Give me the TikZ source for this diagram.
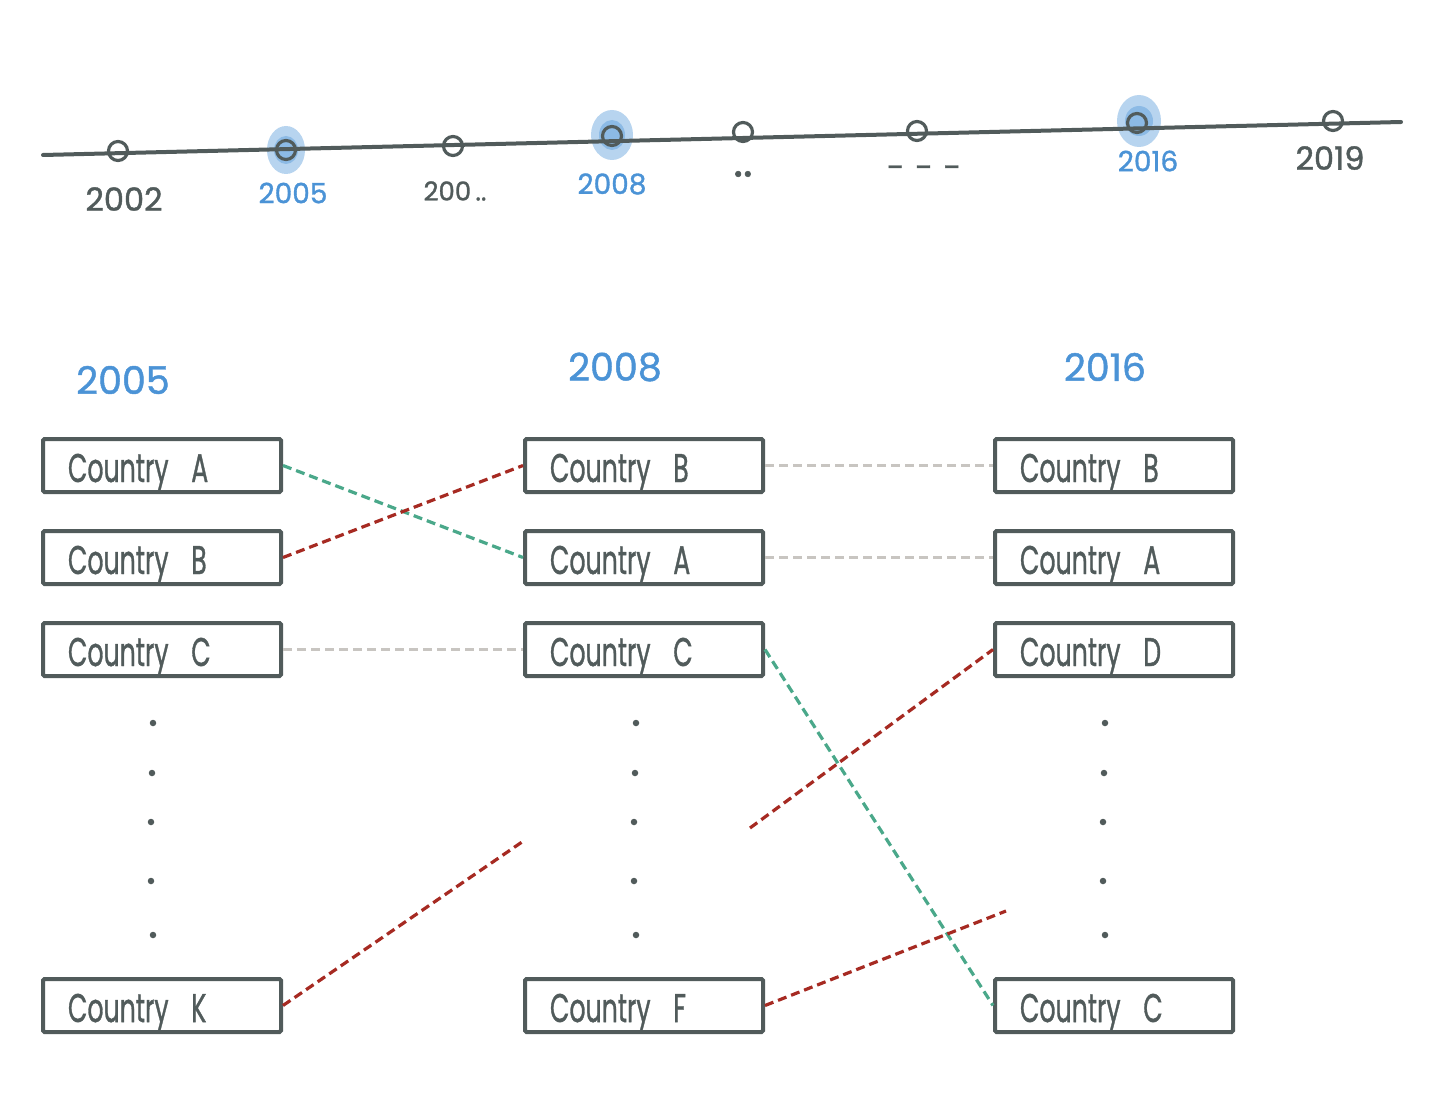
\documentclass[tikz,border=0pt]{standalone}
\usepackage{fontspec}
\setmainfont{Poppins}
\newfontfamily\hand{Poppins}[FakeBold=1.2]
\definecolor{ink}{HTML}{515B5B}
\definecolor{yblue}{HTML}{4B93D6}
\definecolor{teal}{HTML}{4AA88A}
\definecolor{rust}{HTML}{A62A22}
\definecolor{pale}{HTML}{C8C5C1}
\newcommand{\ctry}[1]{\scalebox{0.63}[1]{Country\hspace{36pt}#1}}
\begin{document}
\begin{tikzpicture}[x=1pt,y=-1pt,
  cbox/.style={draw=ink, line width=4pt, rounded corners=1.5pt, minimum width=238pt, minimum height=53pt,
    inner xsep=25pt, inner ysep=0pt, text width=188pt, align=left, text=ink,
    text height=33pt, text depth=0pt,
    font=\hand\fontsize{40}{40}\selectfont},
  tick/.style={draw=ink, line width=3.2pt, circle, minimum size=19pt, inner sep=0pt},
  hlite/.style={fill=yblue, opacity=0.4},
  tl/.style={font=\hand\fontsize{#1}{#1}\selectfont, text=ink},
  tlb/.style={font=\hand\fontsize{#1}{#1}\selectfont, text=yblue},
  hdr/.style={font=\hand\fontsize{38}{38}\selectfont, text=yblue},
  vdot/.style={fill=ink, circle, inner sep=0pt, minimum size=6.5pt},
  link/.style={line width=3.2pt, dash pattern=on 9pt off 5pt},
]
\useasboundingbox (0,0) rectangle (1432,1110);

% timeline
\coordinate (tlL) at (43,155);
\coordinate (tlR) at (1401,122);
\fill[hlite] (286,150) ellipse (19 and 24);
\fill[hlite] (286,150) ellipse (12 and 14);
\fill[hlite] (612,135) ellipse (21 and 25);
\fill[hlite] (612,135) ellipse (13 and 15);
\fill[hlite] (1139,121) ellipse (22 and 26);
\fill[hlite] (1139,121) ellipse (14 and 15);
\draw[ink, line width=4pt, line cap=round] (tlL) -- (tlR);
\node[tick] (c2002) at (118,151) {};
\node[tick] (c2005) at (286,150) {};
\node[tick] (c200x) at (453,146) {};
\node[tick] (c2008) at (612,136) {};
\node[tick] (cdd) at (743,132) {};
\node[tick] (cddd) at (917,131) {};
\node[tick] (c2016) at (1137,123) {};
\node[tick] (c2019) at (1333,121) {};

\node[tl=32] (l2002) at (124,199) {2002};
\node[tlb=28] (l2005) at (293,193) {2005};
\node[tl=26] (l200x) at (455,191) {200\,..};
\node[tlb=28] (l2008) at (612,184) {2008};
\node[tl=46] (ldd) at (743,174) {..};
\node[tl=32] (lddd) at (924,172) {-\,\,-\,\,-};
\node[tlb=28] (l2016) at (1148,161) {2016};
\node[tl=32] (l2019) at (1330,158) {2019};

% column headers
\node[hdr] (h1) at (123,380) {2005};
\node[hdr] (h2) at (615,367) {2008};
\node[hdr] (h3) at (1105,367) {2016};

% boxes
\node[cbox] (a1) at (162,465.5) {\ctry{A}};
\node[cbox] (b1) at (162,557.5) {\ctry{B}};
\node[cbox] (c1) at (162,649.5) {\ctry{C}};
\node[cbox] (k1) at (162,1005.5) {\ctry{K}};

\node[cbox] (b2) at (644,465.5) {\ctry{B}};
\node[cbox] (a2) at (644,557.5) {\ctry{A}};
\node[cbox] (c2) at (644,649.5) {\ctry{C}};
\node[cbox] (f2) at (644,1005.5) {\ctry{F}};

\node[cbox] (b3) at (1114,465.5) {\ctry{B}};
\node[cbox] (a3) at (1114,557.5) {\ctry{A}};
\node[cbox] (d3) at (1114,649.5) {\ctry{D}};
\node[cbox] (c3) at (1114,1005.5) {\ctry{C}};

% vertical dots
\foreach \x/\n in {153/p, 636/q, 1105/r}{
  \node[vdot] (\n1) at (\x,723) {};
  \node[vdot] (\n2) at (\x-1,773) {};
  \node[vdot] (\n3) at (\x-2,822) {};
  \node[vdot] (\n4) at (\x-2,881) {};
  \node[vdot] (\n5) at (\x,935) {};
}

% free ends
\coordinate (fa) at (522,842);
\coordinate (fb) at (750,828);
\coordinate (fc) at (1006,911);

% connectors
\draw[link, teal] (a1.east) -- (a2.west);
\draw[link, rust] (b1.east) -- (b2.west);
\draw[link, pale] (c1.east) -- (c2.west);
\draw[link, rust] (k1.east) -- (fa);
\draw[link, pale] (b2.east) -- (b3.west);
\draw[link, pale] (a2.east) -- (a3.west);
\draw[link, teal] (c2.east) -- (c3.west);
\draw[link, rust] (fb) -- (d3.west);
\draw[link, rust] (f2.east) -- (fc);
\end{tikzpicture}
\end{document}
